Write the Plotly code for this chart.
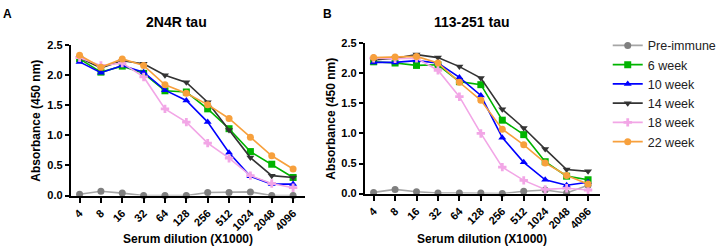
import plotly.graph_objects as go

x_labels = ["4", "8", "16", "32", "64", "128", "256", "512", "1024", "2048", "4096"]

# Panel A: 2N4R tau
pre_A = [0.02, 0.07, 0.04, 0.00, 0.00, 0.00, 0.05, 0.05, 0.06, 0.00, 0.00]
w6_A = [2.27, 2.05, 2.15, 2.03, 1.74, 1.72, 1.44, 1.11, 0.73, 0.52, 0.30]
w10_A = [2.22, 2.04, 2.16, 2.05, 1.75, 1.58, 1.22, 0.71, 0.32, 0.19, 0.19]
w14_A = [2.29, 2.12, 2.24, 2.19, 2.00, 1.88, 1.55, 1.09, 0.63, 0.33, 0.30]
w18_A = [2.29, 2.16, 2.20, 1.97, 1.44, 1.22, 0.87, 0.62, 0.33, 0.20, 0.13]
w22_A = [2.33, 2.13, 2.27, 2.16, 1.84, 1.70, 1.51, 1.28, 0.97, 0.66, 0.44]

# Panel B: 113-251 tau
pre_B = [0.02, 0.07, 0.03, 0.01, 0.01, 0.01, 0.00, 0.04, 0.06, 0.01, 0.14]
w6_B = [2.19, 2.17, 2.13, 2.14, 1.86, 1.81, 1.22, 0.98, 0.53, 0.29, 0.23]
w10_B = [2.18, 2.18, 2.21, 2.17, 1.93, 1.63, 0.93, 0.52, 0.23, 0.14, 0.19]
w14_B = [2.22, 2.25, 2.31, 2.26, 2.11, 1.92, 1.40, 1.09, 0.74, 0.40, 0.37]
w18_B = [2.25, 2.24, 2.25, 2.05, 1.61, 1.00, 0.44, 0.22, 0.07, 0.09, 0.06]
w22_B = [2.26, 2.27, 2.28, 2.17, 1.85, 1.55, 1.07, 0.81, 0.51, 0.30, 0.16]

series_names = ["Pre-immune", "6 week", "10 week", "14 week", "18 week", "22 week"]
line_colors = ["#a6a6a6", "#00b400", "#0000ff", "#333333", "#f2a6e6", "#f7a03c"]
marker_colors = ["#7f7f7f", "#00b400", "#0000ff", "#333333", "#f2a6e6", "#f7a03c"]
symbols = ["circle", "square", "triangle-up", "triangle-down", "cross", "circle"]

panel_A = [pre_A, w6_A, w10_A, w14_A, w18_A, w22_A]
panel_B = [pre_B, w6_B, w10_B, w14_B, w18_B, w22_B]

W, H = 722, 252
FONT = "Arial, Liberation Sans, sans-serif"

fig = go.Figure()
for axis_suffix, data in (("", panel_A), ("2", panel_B)):
    for i in range(len(series_names)):
        fig.add_trace(go.Scatter(
            x=x_labels, y=data[i], name=series_names[i],
            mode="lines+markers",
            line=dict(color=line_colors[i], width=1.6),
            marker=dict(symbol=symbols[i], color=marker_colors[i], size=7,
                        line=dict(width=0)),
            xaxis="x" + axis_suffix, yaxis="y" + axis_suffix,
            showlegend=(axis_suffix == ""), legendgroup=series_names[i],
            cliponaxis=False,
        ))

def px_x(p):
    return p / W

def px_y(p):
    return 1 - p / H

xcommon = dict(type="category", range=[-0.41, 10.55], showline=True, linecolor="black",
               linewidth=2, ticks="outside", ticklen=5, tickwidth=1.5, tickcolor="black",
               tickangle=-45, showgrid=False, zeroline=False,
               tickfont=dict(family=FONT, size=11, color="black", weight="bold"))
ycommon = dict(range=[0, 2.5], tickvals=[0, 0.5, 1.0, 1.5, 2.0, 2.5], tickformat=".1f",
               showline=True, linecolor="black", linewidth=2, ticks="outside",
               ticklen=4, tickwidth=1.5, tickcolor="black", showgrid=False,
               zeroline=False,
               tickfont=dict(family=FONT, size=11, color="black", weight="bold"))

fig.update_layout(
    width=W, height=H, margin=dict(l=0, r=0, t=0, b=0),
    paper_bgcolor="white", plot_bgcolor="white",
    xaxis=dict(domain=[px_x(72), px_x(310)], anchor="y", **xcommon),
    yaxis=dict(domain=[px_y(199), px_y(41)], anchor="x", **ycommon),
    xaxis2=dict(domain=[px_x(371), px_x(610)], anchor="y2", **xcommon),
    yaxis2=dict(domain=[px_y(197), px_y(39)], anchor="x2", **ycommon),
    legend=dict(x=px_x(618), y=px_y(26), xanchor="left", yanchor="top",
                font=dict(family=FONT, size=12.5, color="#222222"),
                tracegroupgap=0, itemwidth=30, bgcolor="rgba(0,0,0,0)"),
    showlegend=True,
)

ann = []
def add_text(text, x, y, size, bold=True, angle=0, xanchor="center"):
    ann.append(dict(text=text, x=px_x(x), y=px_y(y), xref="paper", yref="paper",
                    showarrow=False, xanchor=xanchor, yanchor="middle", textangle=angle,
                    font=dict(family=FONT, size=size, color="black",
                              weight="bold" if bold else "normal")))

add_text("A", 1, 8, 12, xanchor="left")
add_text("B", 326, 8, 12, xanchor="left")
add_text("2N4R tau", 179, 17, 14)
add_text("113-251 tau", 480, 17, 14)
add_text("Absorbance (450 nm)", 37, 120, 12, angle=-90)
add_text("Absorbance (450 nm)", 337, 118, 12, angle=-90)
add_text("Serum dilution (X1000)", 191, 245, 12)
add_text("Serum dilution (X1000)", 490, 245, 12)
fig.update_layout(annotations=ann)

fig.write_html("out.html")
